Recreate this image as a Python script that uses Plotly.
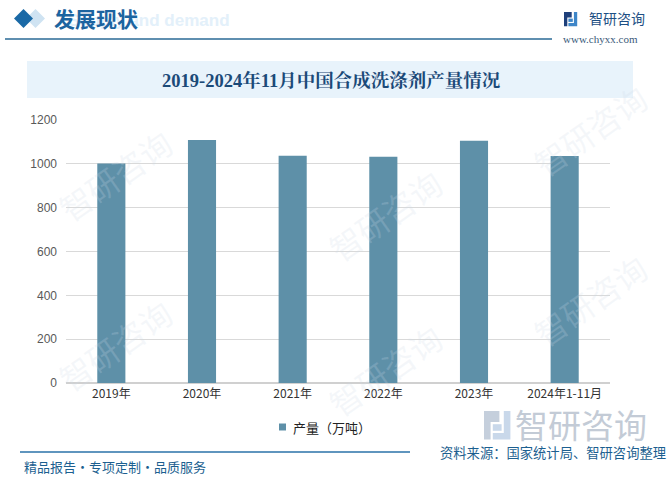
import plotly.graph_objects as go

categories = ["2019年", "2020年", "2021年", "2022年", "2023年", "2024年1-11月"]
production = [1001, 1109, 1037, 1032, 1105, 1036]
y_ticks = [0, 200, 400, 600, 800, 1000, 1200]

title_text = "2019-2024年11月中国合成洗涤剂产量情况"
series_name = "产量（万吨）"

BAR = "#5e90a8"
FONT = "Liberation Sans, Noto Sans CJK SC, sans-serif"
CJK = "Noto Sans CJK SC, sans-serif"

W, H = 671, 482
L, R, T, B = 66, 61, 120, 99
pw, ph = W - L - R, H - T - B

def fx(x):
    return (x - L) / pw

def fy(y):
    return (H - B - y) / ph

fig = go.Figure()
fig.add_trace(go.Bar(
    x=categories, y=production, name=series_name,
    marker=dict(color=BAR, line=dict(width=0)), width=0.31,
    showlegend=False,
))

shapes = []
annotations = []

def poly(points, color, layer="below"):
    d = "M " + " L ".join(f"{fx(x)} {fy(y)}" for x, y in points) + " Z"
    return dict(type="path", xref="paper", yref="paper", path=d,
                fillcolor=color, line=dict(width=0), layer=layer)

# diamonds
shapes.append(poly([(35.5, 9), (45, 18.5), (35.5, 28), (26, 18.5)], "#cfe3f2"))
shapes.append(poly([(23.5, 9), (33, 18.5), (23.5, 28), (14, 18.5)], "#1a69a6"))

# header line
shapes.append(dict(type="line", xref="paper", yref="paper",
                   x0=fx(5), x1=fx(552), y0=fy(39), y1=fy(39),
                   line=dict(color="#2a6a96", width=1.5)))
# banner
shapes.append(dict(type="rect", xref="paper", yref="paper",
                   x0=fx(27), x1=fx(633), y0=fy(61), y1=fy(98),
                   fillcolor="#e8f3fb", line=dict(width=0), layer="below"))
# footer line
shapes.append(dict(type="line", xref="paper", yref="paper",
                   x0=fx(20), x1=fx(410), y0=fy(452), y1=fy(452),
                   line=dict(color="#2a72a8", width=1.5)))
# legend marker
shapes.append(dict(type="rect", xref="paper", yref="paper",
                   x0=fx(279), x1=fx(286), y0=fy(423.5), y1=fy(430.5),
                   fillcolor=BAR, line=dict(width=0), layer="above"))

def logo(x0, y0, s, c1, c2):
    out = []
    out.append(poly([(x0, y0), (x0 + 7*s, y0), (x0 + 7*s, y0 + 5*s), (x0 + 3*s, y0 + 5*s),
                     (x0 + 3*s, y0 + 13*s), (x0, y0 + 13*s)], c1, "above"))
    out.append(poly([(x0 + 9*s, y0), (x0 + 12*s, y0), (x0 + 12*s, y0 + 13*s),
                     (x0 + 4*s, y0 + 13*s), (x0 + 4*s, y0 + 10*s), (x0 + 9*s, y0 + 10*s)], c2, "above"))
    out.append(poly([(x0 + 4*s, y0 + 6*s), (x0 + 8*s, y0 + 6*s), (x0 + 8*s, y0 + 9*s),
                     (x0 + 4*s, y0 + 9*s)], c2, "above"))
    return out

shapes += logo(564, 12, 1.1, "#1e3f7a", "#3e86c8")
shapes += logo(484, 411, 2.2, "#c5cfdc", "#c9d8ea")

def ann(x, y, text, size, color, anchor="left", family=CJK, bold=False, yanchor="middle", angle=0):
    t = f"<b>{text}</b>" if bold else text
    annotations.append(dict(xref="paper", yref="paper", x=fx(x), y=fy(y), text=t,
                            showarrow=False, xanchor=anchor, yanchor=yanchor,
                            textangle=angle,
                            font=dict(size=size, color=color, family=family)))

# faint watermarks
ann(232, 20, "Supply and demand", 17, "#e3f0fa", anchor="right", family="Liberation Sans, sans-serif", bold=True)
for (x, y) in [(115, 175), (115, 345), (385, 215), (385, 370), (590, 130), (590, 300)]:
    ann(x, y, "智研咨询", 32, "rgba(205,218,232,0.22)", anchor="center", angle=-35)

ann(52, 18, "发展现状", 21, "#1c64a0", bold=True)
ann(587, 18, "智研咨询", 14, "#1d4f84")
ann(600, 39, "www.chyxx.com", 11, "#3a5a7a", anchor="center", family="Liberation Serif, serif")
ann(331, 80, title_text, 18.5, "#1b4a78", anchor="center",
    family="Liberation Serif, Noto Serif CJK SC, Noto Sans CJK SC, serif", bold=True)
ann(513, 424, "智研咨询", 33, "#c3cbd6")
ann(291, 427, series_name, 13, "#222")
ann(438, 452, "资料来源：国家统计局、智研咨询整理", 13.3, "#1c5f90")
ann(22, 466, "精品报告·专项定制·品质服务", 13, "#1c5f90")

fig.update_layout(
    width=W, height=H,
    margin=dict(l=L, r=R, t=T, b=B),
    paper_bgcolor="white", plot_bgcolor="white",
    shapes=shapes, annotations=annotations,
    showlegend=False,
    font=dict(family=FONT),
)
fig.update_yaxes(range=[0, 1200], tickvals=y_ticks, showgrid=True, gridcolor="#d9d9d9",
                 gridwidth=1, zeroline=True, zerolinecolor="#d0d0d0", ticks="",
                 tickfont=dict(size=12, color="#595959", family=FONT), ticklabelstandoff=8,
                 showline=False)
fig.update_xaxes(tickfont=dict(size=12, color="#333", family=CJK), showline=True,
                 linecolor="#d0d0d0", ticks="")

fig.write_html("out.html")
